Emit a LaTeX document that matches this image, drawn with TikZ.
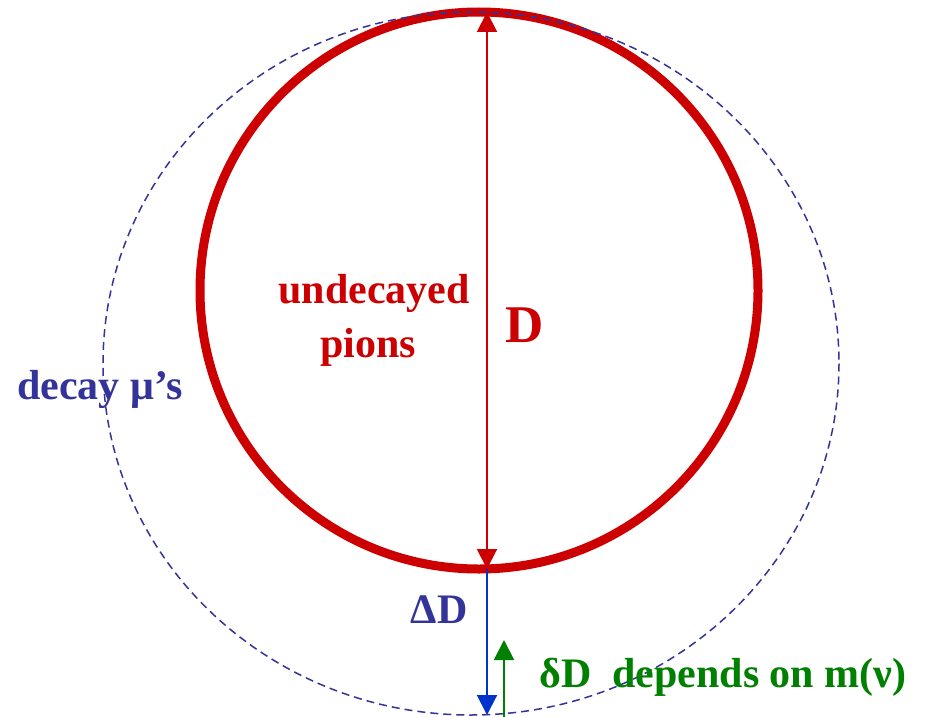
\documentclass[tikz,border=0pt]{standalone}
\usepackage{fontspec}
\setmainfont{Liberation Serif}
\usetikzlibrary{arrows.meta}
\definecolor{cred}{HTML}{CC0000}
\definecolor{cnavy}{HTML}{333399}
\definecolor{cblue}{HTML}{0033CC}
\definecolor{cgreen}{HTML}{008000}
\tikzset{
  lbl/.style={font=\bfseries\fontsize{42}{48}\selectfont, inner sep=0pt, anchor=base},
  arr/.style={-{Triangle[length=20pt,width=20pt]}, line width=2pt},
}
\begin{document}
\begin{tikzpicture}[x=1pt,y=-1pt]
\useasboundingbox (0,0) rectangle (926,717);
% red circle
\draw[cred, line width=9pt] (479,290.5) ellipse [x radius=279, y radius=278.5];
% dashed outer ellipse
\draw[cnavy, line width=1.5pt, dash pattern=on 8pt off 5pt] (471,363.5) ellipse [x radius=368, y radius=351.5];
\coordinate (top) at (487,12);
\coordinate (bot) at (487,569);
\coordinate (outer) at (487,715);
\coordinate (gbot) at (504,717);
\coordinate (gtop) at (504,640);
\draw[arr, cred, {Triangle[length=20pt,width=20pt]}-{Triangle[length=20pt,width=20pt]}] (bot) -- (top);
\draw[arr, cblue] (bot) -- (outer);
\draw[arr, cgreen] (gbot) -- (gtop);
\node[lbl, text=cred] (und) at (374,303) {undecayed};
\node[lbl, text=cred] (pions) at (368,357) {pions};
\node[lbl, text=cred, font=\bfseries\fontsize{53}{60}\selectfont] (D) at (525,342) {D};
\node[lbl, text=cnavy] (decay) at (100,399) {decay μ’s};
\node[lbl, text=cnavy] (dD) at (439,623) {ΔD};
\node[lbl, text=cgreen, anchor=base west] (delta) at (539,687) {δD\ \ depends on m(ν)};
\end{tikzpicture}
\end{document}
